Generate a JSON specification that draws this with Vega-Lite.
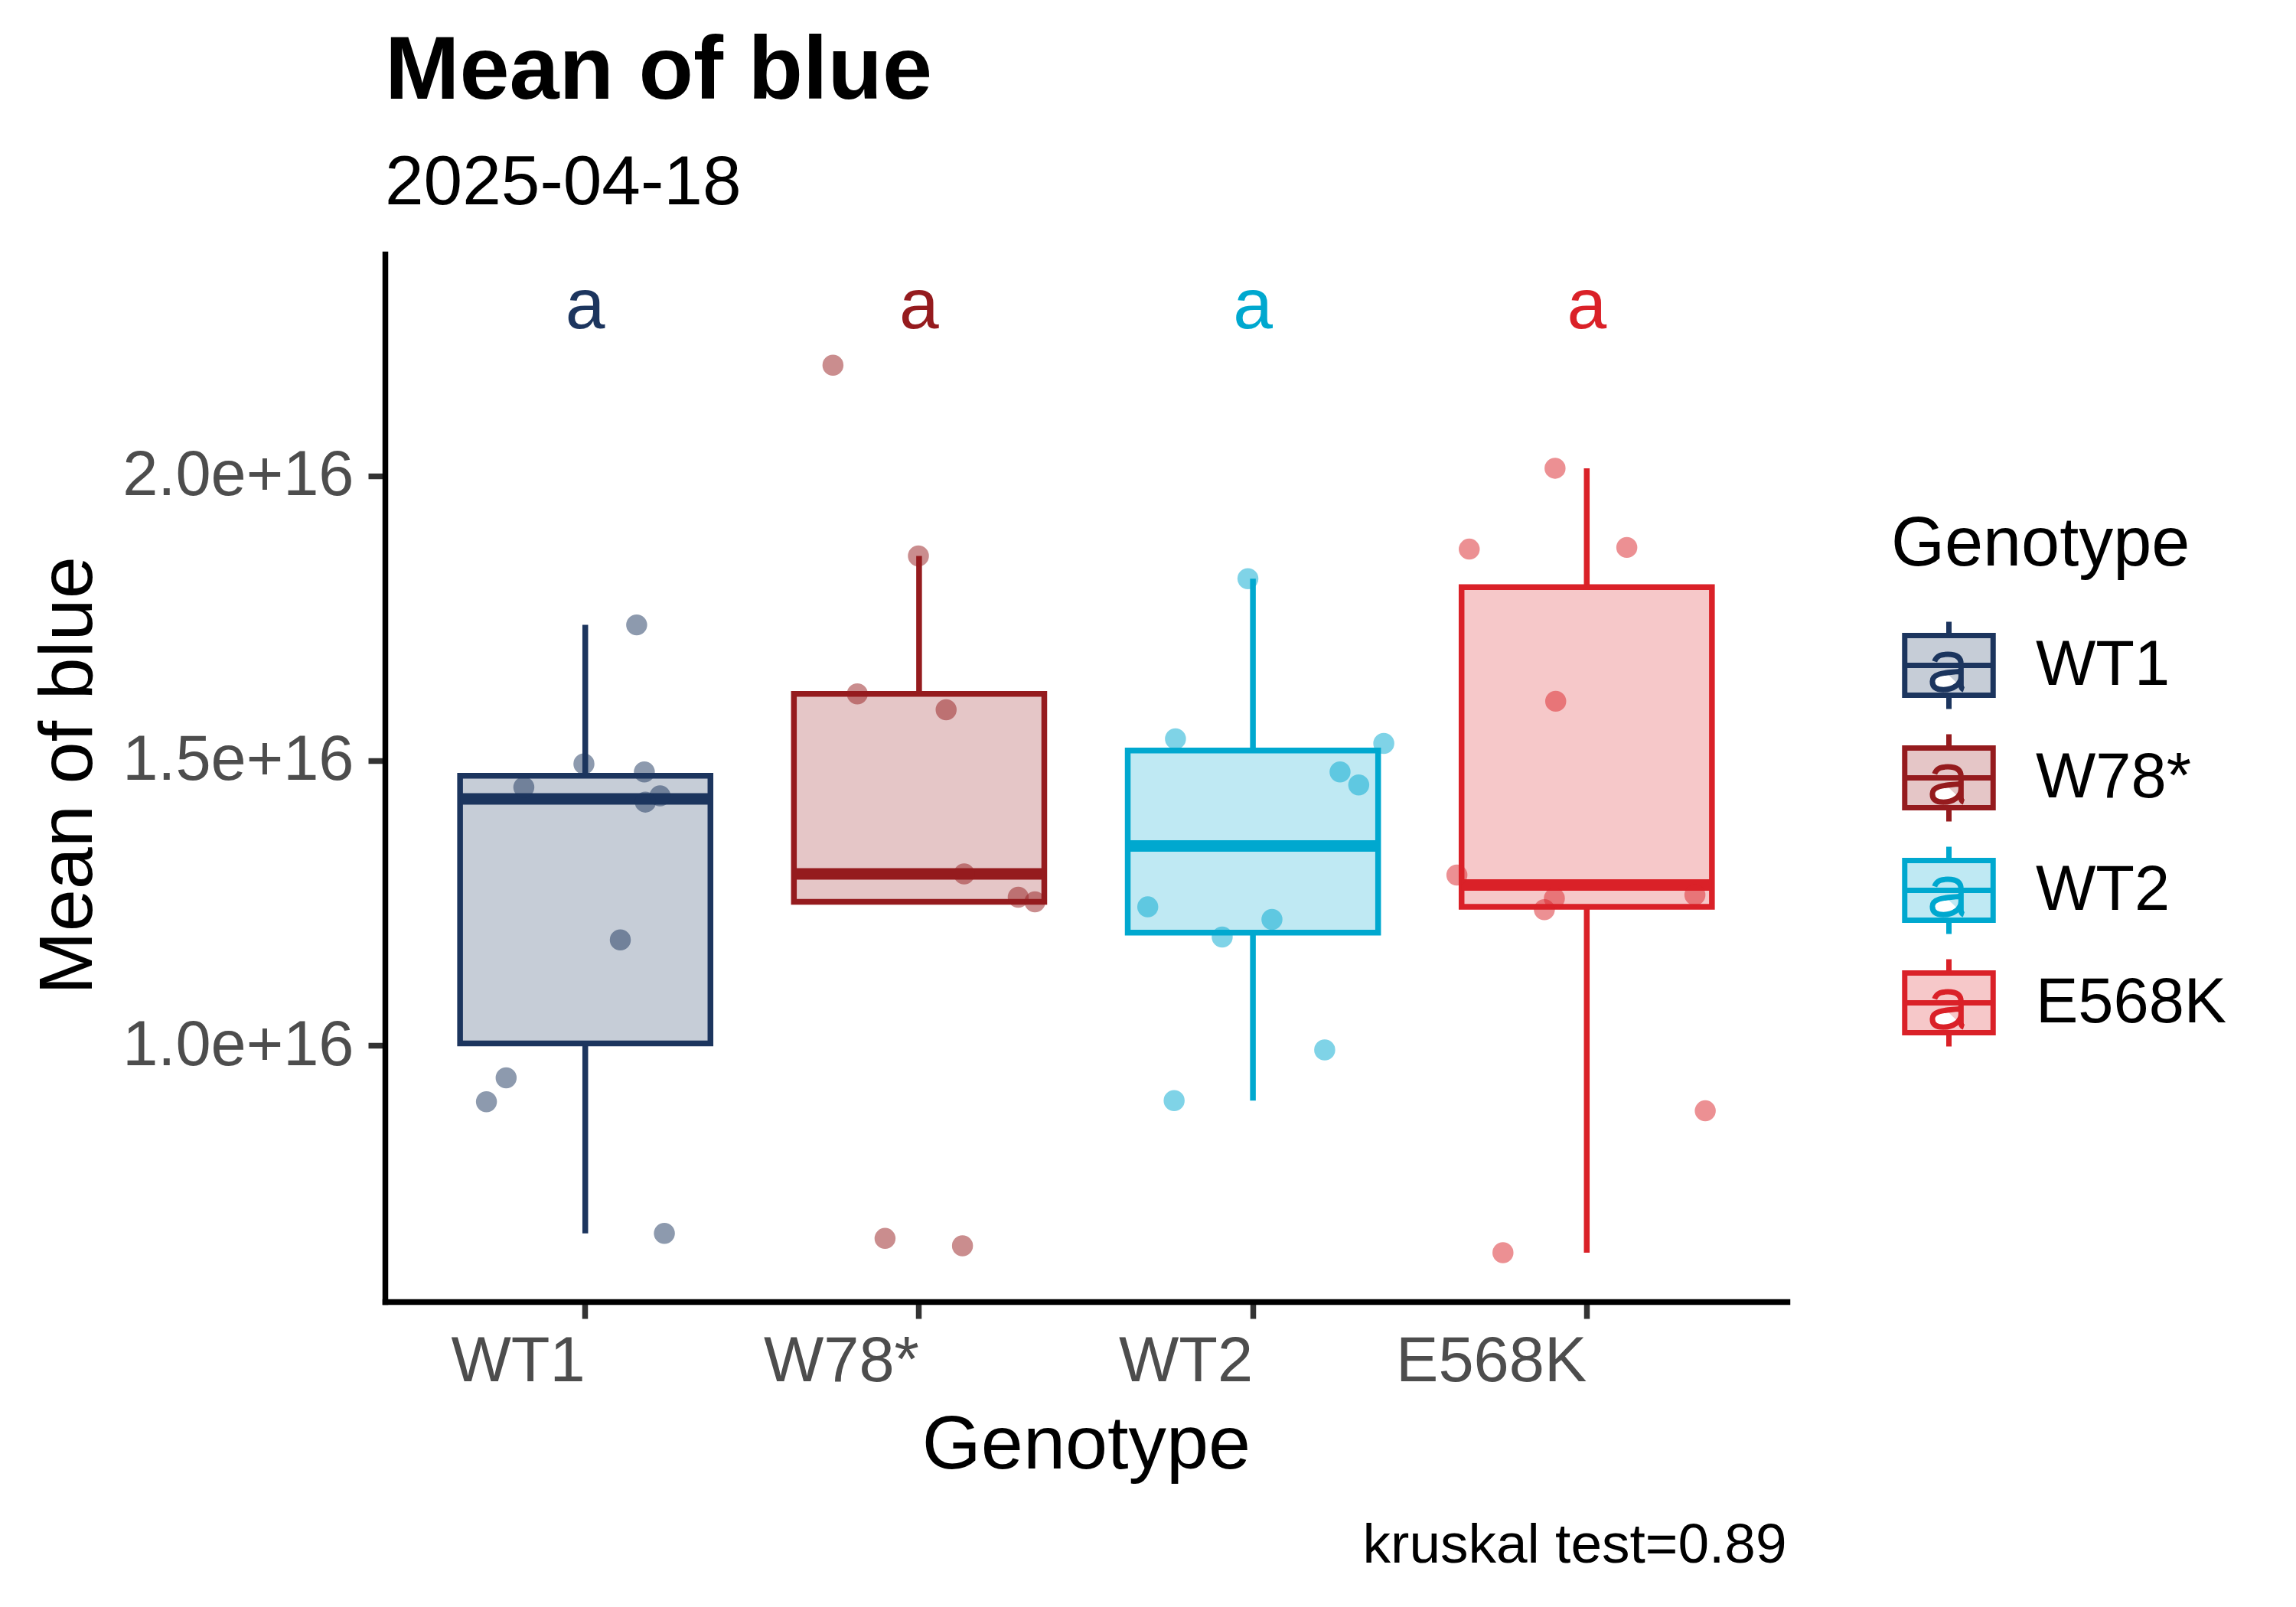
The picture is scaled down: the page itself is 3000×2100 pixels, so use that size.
{
  "$schema": "https://vega.github.io/schema/vega-lite/v6.json",
  "width": 1832,
  "height": 1369,
  "autosize": {"type": "none"},
  "padding": {"left": 503, "top": 332, "right": 665, "bottom": 399},
  "background": "white",
  "title": {
    "text": "Mean of blue",
    "subtitle": "2025-04-18",
    "anchor": "start",
    "frame": "group",
    "font": "Liberation Sans",
    "fontSize": 117,
    "fontWeight": "bold",
    "color": "black",
    "subtitleFont": "Liberation Sans",
    "subtitleFontSize": 91,
    "subtitleColor": "black",
    "subtitlePadding": 41,
    "offset": 45
  },
  "datasets": {
    "obs": [
      {"Genotype": "WT1", "value": 1.738e16, "jitter": 0.154},
      {"Genotype": "WT1", "value": 1.494e16, "jitter": -0.004},
      {"Genotype": "WT1", "value": 1.480e16, "jitter": 0.177},
      {"Genotype": "WT1", "value": 1.453e16, "jitter": -0.184},
      {"Genotype": "WT1", "value": 1.438e16, "jitter": 0.224},
      {"Genotype": "WT1", "value": 1.427e16, "jitter": 0.180},
      {"Genotype": "WT1", "value": 1.185e16, "jitter": 0.105},
      {"Genotype": "WT1", "value": 0.943e16, "jitter": -0.237},
      {"Genotype": "WT1", "value": 0.901e16, "jitter": -0.296},
      {"Genotype": "WT1", "value": 0.670e16, "jitter": 0.237},
      {"Genotype": "W78*", "value": 2.194e16, "jitter": -0.258},
      {"Genotype": "W78*", "value": 1.859e16, "jitter": -0.002},
      {"Genotype": "W78*", "value": 1.617e16, "jitter": -0.185},
      {"Genotype": "W78*", "value": 1.589e16, "jitter": 0.081},
      {"Genotype": "W78*", "value": 1.301e16, "jitter": 0.135},
      {"Genotype": "W78*", "value": 1.260e16, "jitter": 0.297},
      {"Genotype": "W78*", "value": 1.252e16, "jitter": 0.347},
      {"Genotype": "W78*", "value": 0.661e16, "jitter": -0.102},
      {"Genotype": "W78*", "value": 0.648e16, "jitter": 0.130},
      {"Genotype": "WT2", "value": 1.819e16, "jitter": -0.015},
      {"Genotype": "WT2", "value": 1.538e16, "jitter": -0.232},
      {"Genotype": "WT2", "value": 1.530e16, "jitter": 0.392},
      {"Genotype": "WT2", "value": 1.480e16, "jitter": 0.261},
      {"Genotype": "WT2", "value": 1.457e16, "jitter": 0.317},
      {"Genotype": "WT2", "value": 1.243e16, "jitter": -0.315},
      {"Genotype": "WT2", "value": 1.221e16, "jitter": 0.057},
      {"Genotype": "WT2", "value": 1.190e16, "jitter": -0.092},
      {"Genotype": "WT2", "value": 0.992e16, "jitter": 0.215},
      {"Genotype": "WT2", "value": 0.903e16, "jitter": -0.236},
      {"Genotype": "E568K", "value": 2.013e16, "jitter": -0.095},
      {"Genotype": "E568K", "value": 1.871e16, "jitter": -0.352},
      {"Genotype": "E568K", "value": 1.874e16, "jitter": 0.120},
      {"Genotype": "E568K", "value": 1.604e16, "jitter": -0.093},
      {"Genotype": "E568K", "value": 1.299e16, "jitter": -0.389},
      {"Genotype": "E568K", "value": 1.258e16, "jitter": -0.097},
      {"Genotype": "E568K", "value": 1.238e16, "jitter": -0.127},
      {"Genotype": "E568K", "value": 1.264e16, "jitter": 0.324},
      {"Genotype": "E568K", "value": 0.885e16, "jitter": 0.355},
      {"Genotype": "E568K", "value": 0.636e16, "jitter": -0.251}
    ],
    "letters": [
      {"Genotype": "WT1", "letter": "a"},
      {"Genotype": "W78*", "letter": "a"},
      {"Genotype": "WT2", "letter": "a"},
      {"Genotype": "E568K", "letter": "a"}
    ]
  },
  "data": {"name": "obs"},
  "layer": [
    {
      "transform": [
        {"joinaggregate": [
          {"op": "q1", "field": "value", "as": "lq"},
          {"op": "q3", "field": "value", "as": "uq"}
        ], "groupby": ["Genotype"]},
        {"filter": "datum.value >= datum.lq - 1.5 * (datum.uq - datum.lq) && datum.value <= datum.uq + 1.5 * (datum.uq - datum.lq)"},
        {"aggregate": [
          {"op": "min", "field": "value", "as": "lo"},
          {"op": "max", "field": "value", "as": "hi"},
          {"op": "max", "field": "lq", "as": "lq"},
          {"op": "max", "field": "uq", "as": "uq"}
        ], "groupby": ["Genotype"]}
      ],
      "layer": [
        {
          "mark": {"type": "rule", "strokeWidth": 7.5},
          "encoding": {
            "x": {"field": "Genotype", "type": "nominal", "scale": {"domain": ["WT1", "W78*", "WT2", "E568K"]}, "axis": null},
            "y": {"field": "lo", "type": "quantitative", "title": "Mean of blue", "scale": {"domain": [0.550e16, 2.389e16], "nice": false, "zero": false}},
            "y2": {"field": "lq"},
            "color": {"field": "Genotype", "type": "nominal", "legend": null, "scale": {"domain": ["WT1", "WT2", "W78*", "E568K"], "range": ["#1C355E", "#00A8CF", "#951B1E", "#DA2128"]}}
          }
        },
        {
          "mark": {"type": "rule", "strokeWidth": 7.5},
          "encoding": {
            "x": {"field": "Genotype", "type": "nominal", "scale": {"domain": ["WT1", "W78*", "WT2", "E568K"]}, "axis": null},
            "y": {"field": "uq", "type": "quantitative", "title": "Mean of blue", "scale": {"domain": [0.550e16, 2.389e16], "nice": false, "zero": false}},
            "y2": {"field": "hi"},
            "color": {"field": "Genotype", "type": "nominal", "legend": null, "scale": {"domain": ["WT1", "WT2", "W78*", "E568K"], "range": ["#1C355E", "#00A8CF", "#951B1E", "#DA2128"]}}
          }
        }
      ]
    },
    {
      "transform": [
        {"aggregate": [
          {"op": "q1", "field": "value", "as": "lq"},
          {"op": "q3", "field": "value", "as": "uq"},
          {"op": "median", "field": "value", "as": "med"}
        ], "groupby": ["Genotype"]}
      ],
      "layer": [
        {
          "mark": {"type": "bar", "width": {"band": 0.75}, "strokeWidth": 7.5},
          "encoding": {
            "x": {"field": "Genotype", "type": "nominal", "scale": {"domain": ["WT1", "W78*", "WT2", "E568K"]}, "axis": null},
            "y": {"field": "lq", "type": "quantitative", "title": "Mean of blue", "scale": {"domain": [0.550e16, 2.389e16], "nice": false, "zero": false}},
            "y2": {"field": "uq"},
            "fill": {"field": "Genotype", "type": "nominal", "title": "Genotype",
              "scale": {"domain": ["WT1", "W78*", "WT2", "E568K"], "range": ["#C6CDD7", "#E5C6C7", "#BFE9F3", "#F6C8C9"]},
              "legend": {"title": "Genotype", "orient": "none", "legendX": 1968, "legendY": 336, "symbolType": "M-0.802,-0.542H0.802V0.542H-0.802Z M-0.802,0H0.802 M0,-0.792V-0.542 M0,0.542V0.792 M-0.26,-0.07C-0.22,-0.19 -0.12,-0.2 -0.02,-0.2C0.14,-0.2 0.22,-0.14 0.22,-0.02V0.36C0.22,0.41 0.24,0.43 0.27,0.44 M0.22,0.1C0.1,0.14 -0.3,0.1 -0.3,0.29C-0.3,0.4 -0.22,0.44 -0.1,0.44C0.08,0.44 0.22,0.34 0.22,0.2", "symbolSize": 20736, "symbolStrokeWidth": 7}},
            "stroke": {"field": "Genotype", "type": "nominal", "title": "Genotype",
              "scale": {"domain": ["WT1", "W78*", "WT2", "E568K"], "range": ["#1C355E", "#951B1E", "#00A8CF", "#DA2128"]},
              "legend": {"title": "Genotype", "orient": "none", "legendX": 1968, "legendY": 336, "symbolType": "M-0.802,-0.542H0.802V0.542H-0.802Z M-0.802,0H0.802 M0,-0.792V-0.542 M0,0.542V0.792 M-0.26,-0.07C-0.22,-0.19 -0.12,-0.2 -0.02,-0.2C0.14,-0.2 0.22,-0.14 0.22,-0.02V0.36C0.22,0.41 0.24,0.43 0.27,0.44 M0.22,0.1C0.1,0.14 -0.3,0.1 -0.3,0.29C-0.3,0.4 -0.22,0.44 -0.1,0.44C0.08,0.44 0.22,0.34 0.22,0.2", "symbolSize": 20736, "symbolStrokeWidth": 7}}
          }
        },
        {
          "mark": {"type": "bar", "width": {"band": 0.75}, "filled": false, "strokeWidth": 15},
          "encoding": {
            "x": {"field": "Genotype", "type": "nominal", "scale": {"domain": ["WT1", "W78*", "WT2", "E568K"]}, "axis": null},
            "y": {"field": "med", "type": "quantitative", "title": "Mean of blue", "scale": {"domain": [0.550e16, 2.389e16], "nice": false, "zero": false}},
            "y2": {"field": "med"},
            "color": {"field": "Genotype", "type": "nominal", "legend": null, "scale": {"domain": ["WT1", "WT2", "W78*", "E568K"], "range": ["#1C355E", "#00A8CF", "#951B1E", "#DA2128"]}}
          }
        }
      ]
    },
    {
      "mark": {"type": "circle", "size": 755, "opacity": 0.5},
      "encoding": {
        "x": {"field": "Genotype", "type": "nominal", "scale": {"domain": ["WT1", "W78*", "WT2", "E568K"]},
          "axis": {"title": "Genotype", "orient": "bottom", "labelAlign": "right", "labelAngle": 0, "labelBaseline": "top", "labelPadding": 15, "titleY": 217, "titleBaseline": "alphabetic"}},
        "xOffset": {"field": "jitter", "type": "quantitative", "scale": {"domain": [-0.5, 0.5], "nice": false, "zero": false}},
        "y": {"field": "value", "type": "quantitative", "title": "Mean of blue",
          "scale": {"domain": [0.550e16, 2.389e16], "nice": false, "zero": false},
          "axis": {"title": "Mean of blue", "values": [1e16, 1.5e16, 2e16], "format": ".1e", "labelPadding": 19, "titleX": -384, "titleY": 681, "titleAlign": "center", "titleBaseline": "alphabetic"}},
        "color": {"field": "Genotype", "type": "nominal", "legend": null, "scale": {"domain": ["WT1", "WT2", "W78*", "E568K"], "range": ["#1C355E", "#00A8CF", "#951B1E", "#DA2128"]}}
      }
    },
    {
      "data": {"name": "letters"},
      "mark": {"type": "text", "fontSize": 93, "font": "Liberation Sans", "baseline": "middle", "dy": 6},
      "encoding": {
        "x": {"field": "Genotype", "type": "nominal", "scale": {"domain": ["WT1", "W78*", "WT2", "E568K"]},
          "axis": {"title": "kruskal test=0.89", "orient": "bottom", "labels": false, "ticks": false, "domain": false, "titleX": 1831, "titleY": 340, "titleAlign": "right", "titleBaseline": "alphabetic", "titleFontSize": 73, "titleColor": "black"}},
        "y": {"datum": 2.305e16, "type": "quantitative", "scale": {"domain": [0.550e16, 2.389e16], "nice": false, "zero": false}},
        "text": {"field": "letter"},
        "color": {"field": "Genotype", "type": "nominal", "legend": null, "scale": {"domain": ["WT1", "WT2", "W78*", "E568K"], "range": ["#1C355E", "#00A8CF", "#951B1E", "#DA2128"]}}
      }
    }
  ],
  "resolve": {"axis": {"x": "independent"}, "scale": {"xOffset": "independent"}},
  "config": {
    "view": {"stroke": null},
    "font": "Liberation Sans",
    "scale": {"bandPaddingInner": 0, "bandPaddingOuter": 0.1},
    "axis": {
      "domainColor": "black",
      "domainWidth": 7.5,
      "domainCap": "square",
      "tickColor": "#333333",
      "tickWidth": 7.5,
      "tickSize": 22,
      "labelFont": "Liberation Sans",
      "labelFontSize": 83,
      "labelColor": "#4D4D4D",
      "labelLimit": 2000,
      "titleFont": "Liberation Sans",
      "titleFontSize": 99,
      "titleFontWeight": "normal",
      "titleColor": "black",
      "titleLimit": 3000,
      "grid": false
    },
    "legend": {
      "labelFont": "Liberation Sans",
      "labelFontSize": 83,
      "labelColor": "black",
      "labelLimit": 2000,
      "titleFont": "Liberation Sans",
      "titleFontSize": 90,
      "titleFontWeight": "normal",
      "titleColor": "black",
      "titleLimit": 2000,
      "titlePadding": 36,
      "labelOffset": 38,
      "rowPadding": 0,
      "padding": 0,
      "symbolStrokeWidth": 7,
      "symbolOpacity": 1
    }
  }
}
